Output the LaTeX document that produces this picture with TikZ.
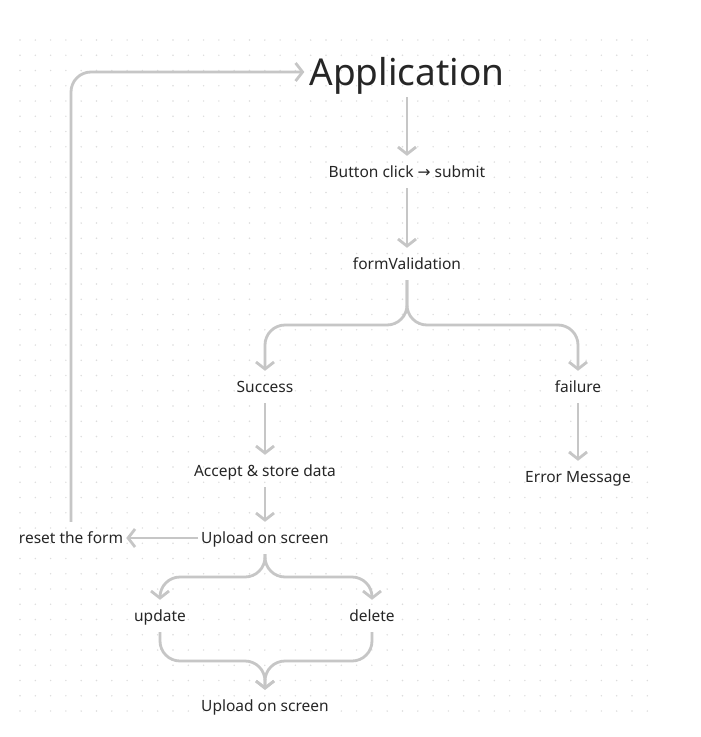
\documentclass[tikz,border=0pt]{standalone}
\usepackage{fontspec}
\setmainfont{Noto Sans}
\newfontfamily\dejavu{DejaVu Sans}
\usetikzlibrary{arrows.meta}
\definecolor{linegray}{HTML}{C6C6C6}
\definecolor{txt}{HTML}{262626}
\definecolor{dotgray}{HTML}{DCDCDC}
\tikzset{
  lbl/.style={text=txt, font=\fontsize{15.5}{18}\selectfont, text height=12.5pt, text depth=1.5pt, inner ysep=9pt, inner xsep=3pt},
  arr/.style={draw=linegray, line width=2.8pt, -{Straight Barb[length=7pt,width=18pt]}, rounded corners=20pt}
}
\begin{document}
\begin{tikzpicture}[x=1pt,y=-1pt]
\fill[white] (0,0) rectangle (701,737);
\useasboundingbox (0,0) rectangle (701,737);
\foreach \i in {0,...,41}{
  \foreach \j in {0,...,44}{
    \fill[dotgray] ({20+\i*15.3},{40+\j*15.25}) circle (0.8);
  }
}
\node[text=txt, font=\fontsize{37}{40}\selectfont, inner xsep=5pt, text height=28pt, text depth=8pt, inner ysep=4pt] (app) at (407,75) {Application};
\node[lbl] (btn) at (407,172) {Button click {\dejavu →} submit};
\node[lbl] (fv) at (407,264) {formValidation};
\node[lbl] (succ) at (265,387) {Success};
\node[lbl] (fail) at (578,387) {failure};
\node[lbl] (acc) at (265,471) {Accept \& store data};
\node[lbl] (err) at (578,477) {Error Message};
\node[lbl] (up1) at (265,538) {Upload on screen};
\node[lbl] (reset) at (71,538) {reset the form};
\node[lbl] (upd) at (160,616) {update};
\node[lbl] (del) at (372,616) {delete};
\node[lbl] (up2) at (265,706) {Upload on screen};
\coordinate (b1) at (407,325);
\coordinate (b2) at (265,577);
\coordinate (b3) at (265,661);
\coordinate (loop) at (71,72);
\draw[arr] (app.south) -- (btn.north);
\draw[arr] (btn.south) -- (fv.north);
\draw[arr] (fv.south) -- (b1) -- (b1 -| succ) -- (succ.north);
\draw[arr] (fv.south) -- (b1) -- (b1 -| fail) -- (fail.north);
\draw[arr] (succ.south) -- (acc.north);
\draw[arr] (fail.south) -- (err.north);
\draw[arr] (acc.south) -- (up1.north);
\draw[arr] (up1.west) -- (reset.east);
\draw[arr] (reset.north) -- (loop) -- (loop -| app.west);
\draw[arr] (up1.south) -- (b2) -- (b2 -| upd) -- (upd.north);
\draw[arr] (up1.south) -- (b2) -- (b2 -| del) -- (del.north);
\draw[arr] (upd.south) -- (upd |- b3) -- (b3) -- (up2.north);
\draw[arr] (del.south) -- (del |- b3) -- (b3) -- (up2.north);
\end{tikzpicture}
\end{document}
